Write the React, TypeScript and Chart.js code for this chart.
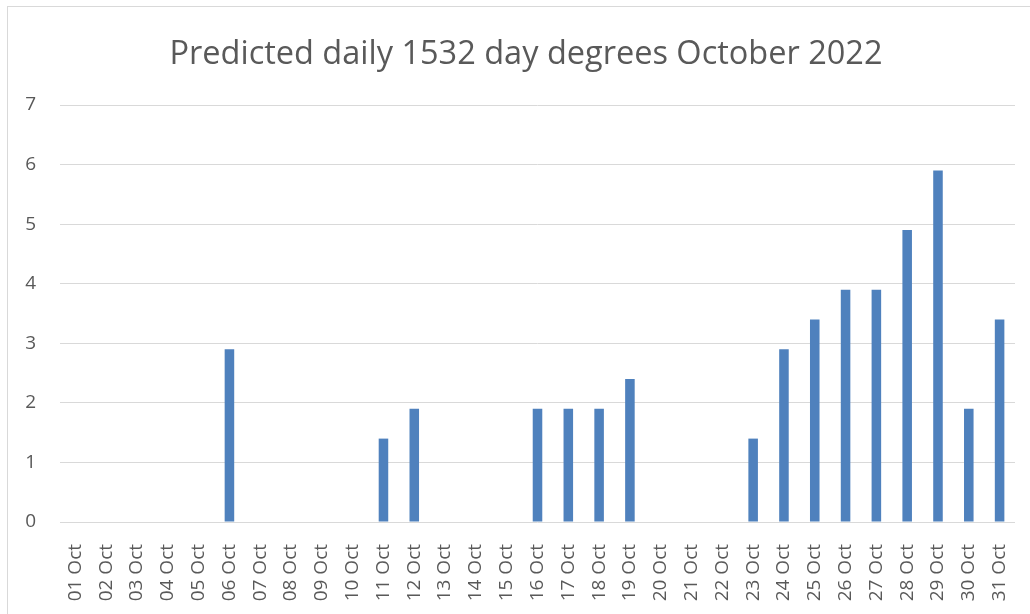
import React, { useEffect, useRef } from "react";
import { Chart, registerables } from "chart.js";

Chart.register(...registerables);

const days: string[] = [
  "01 Oct", "02 Oct", "03 Oct", "04 Oct", "05 Oct", "06 Oct", "07 Oct", "08 Oct",
  "09 Oct", "10 Oct", "11 Oct", "12 Oct", "13 Oct", "14 Oct", "15 Oct", "16 Oct",
  "17 Oct", "18 Oct", "19 Oct", "20 Oct", "21 Oct", "22 Oct", "23 Oct", "24 Oct",
  "25 Oct", "26 Oct", "27 Oct", "28 Oct", "29 Oct", "30 Oct", "31 Oct",
];
const dayDegrees: number[] = [
  0, 0, 0, 0, 0, 2.9, 0, 0, 0, 0, 1.4, 1.9, 0, 0, 0, 1.9,
  1.9, 1.9, 2.4, 0, 0, 0, 1.4, 2.9, 3.4, 3.9, 3.9, 4.9, 5.9, 1.9, 3.4,
];
const yTicks: number[] = [0, 1, 2, 3, 4, 5, 6, 7];
const titleText = "Predicted daily 1532 day degrees October 2022";

export default function App() {
  const ref = useRef<HTMLCanvasElement | null>(null);

  useEffect(() => {
    document.body.style.margin = "0";
    document.body.style.overflow = "hidden";
    const canvas = ref.current;
    if (!canvas) return;
    const textColor = "#595959";
    const chart = new Chart(canvas, {
      type: "bar",
      data: {
        labels: days,
        datasets: [
          {
            label: "Day degrees",
            data: dayDegrees,
            backgroundColor: "#4F81BD",
            borderWidth: 0,
            barPercentage: 0.31,
            categoryPercentage: 1,
          },
        ],
      },
      options: {
        responsive: false,
        animation: false,
        devicePixelRatio: 1,
        layout: { padding: { left: 22, right: 0, top: 0, bottom: 0 } },
        plugins: {
          legend: { display: false },
          tooltip: { enabled: false },
          title: {
            display: true,
            text: titleText,
            color: textColor,
            font: { family: "'Open Sans'", size: 32.5, weight: "normal", lineHeight: 1.2 },
            padding: { top: 35, bottom: 31 },
          },
        },
        scales: {
          x: {
            grid: { display: false },
            border: { display: false },
            ticks: {
              color: textColor,
              font: { family: "'Open Sans'", size: 19 },
              minRotation: 90,
              maxRotation: 90,
              autoSkip: false,
              padding: 14,
            },
            afterFit: (scale: any) => {
              scale.height = 92;
              scale.paddingLeft = 0;
              scale.paddingRight = 15;
            },
          },
          y: {
            min: 0,
            max: 7,
            afterBuildTicks: (scale: any) => {
              scale.ticks = yTicks.map((v) => ({ value: v }));
            },
            grid: { color: "#d9d9d9", lineWidth: 1, drawTicks: false },
            border: { display: false },
            ticks: {
              color: textColor,
              font: { family: "'Open Sans'", size: 19 },
              padding: 24,
            },
            afterFit: (scale: any) => {
              scale.width = 38;
            },
          },
        },
      },
    });
    return () => chart.destroy();
  }, []);

  return (
    <div>
      <div
        style={{
          position: "fixed",
          left: 7,
          top: 6,
          width: 1100,
          height: 700,
          border: "1px solid #d9d9d9",
          boxSizing: "border-box",
        }}
      />
      <canvas
        ref={ref}
        width={1030}
        height={614}
        style={{ position: "fixed", left: 0, top: 0, width: 1030, height: 614 }}
      />
    </div>
  );
}
